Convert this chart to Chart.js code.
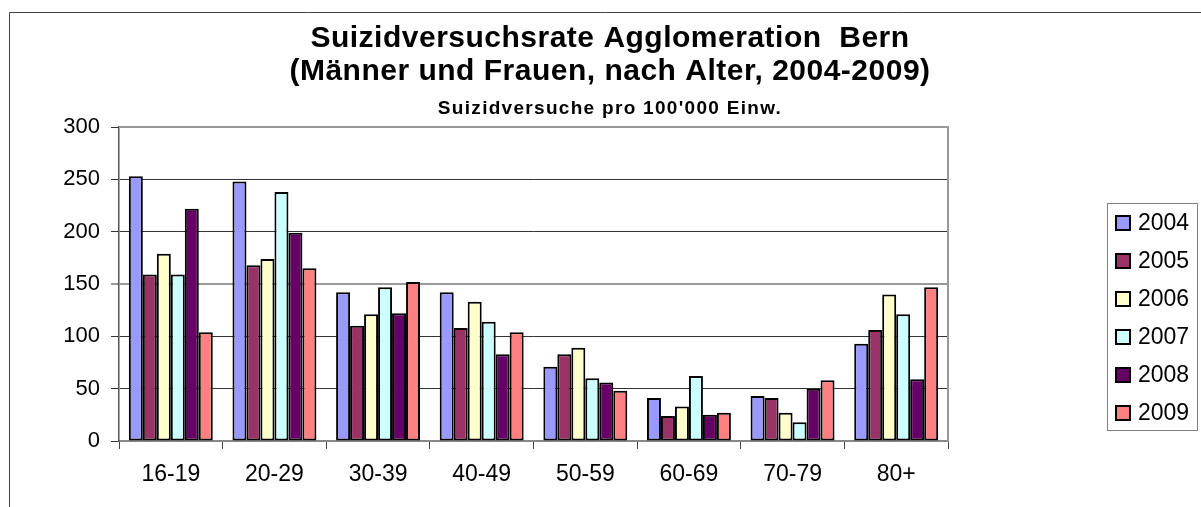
<!DOCTYPE html>
<html>
<head>
<meta charset="utf-8">
<script src="https://cdn.jsdelivr.net/npm/chart.js@4/dist/chart.umd.min.js"></script>
<style>
html,body{margin:0;padding:0;background:#fff;}
canvas{display:block;}
</style>
</head>
<body>
<canvas id="c" width="1201" height="507"></canvas>
<script>
const titleLines = ["Suizidversuchsrate Agglomeration  Bern", "(Männer und Frauen, nach Alter, 2004-2009)"];
const subtitleText = "Suizidversuche pro 100'000 Einw.";
const ageGroups = ['16-19','20-29','30-39','40-49','50-59','60-69','70-79','80+'];
const years = ['2004','2005','2006','2007','2008','2009'];
const v2004 = [253, 248, 142, 142, 71, 41, 43, 93];
const v2005 = [159, 168, 110, 108, 83, 24, 41, 106];
const v2006 = [179, 174, 121, 133, 89, 33, 27, 140];
const v2007 = [159, 238, 147, 114, 60, 62, 18, 121];
const v2008 = [222, 199, 122, 83, 56, 25, 50, 59];
const v2009 = [104, 165, 152, 104, 48, 27, 58, 147];
const seriesValues = [v2004, v2005, v2006, v2007, v2008, v2009];
const seriesColors = ['#9999FF','#993366','#FFFFCC','#CCFFFF','#660066','#FF8080'];
const yMin = 0, yMax = 300, yStep = 50;

const FONT = "'Liberation Sans', Arial, Helvetica, sans-serif";

const decor = {
  id: 'decor',
  afterDraw(chart) {
    const ctx = chart.ctx;
    const ca = chart.chartArea;
    ctx.save();
    // outer frame
    ctx.strokeStyle = '#444';
    ctx.lineWidth = 1;
    ctx.beginPath();
    ctx.moveTo(9.5, 507);
    ctx.lineTo(9.5, 12.5);
    ctx.lineTo(1201, 12.5);
    ctx.stroke();
    // plot area border (top & right)
    ctx.strokeStyle = '#999';
    ctx.lineWidth = 2;
    ctx.beginPath();
    ctx.moveTo(ca.left, ca.top);
    ctx.lineTo(ca.right, ca.top);
    ctx.lineTo(ca.right, ca.bottom);
    ctx.stroke();
    // titles
    ctx.fillStyle = '#000';
    ctx.textAlign = 'center';
    ctx.textBaseline = 'alphabetic';
    ctx.font = "bold 30px " + FONT;
    try { ctx.letterSpacing = '0.5px'; } catch(e) {}
    ctx.fillText(titleLines[0], 610, 47);
    ctx.fillText(titleLines[1], 610, 80);
    ctx.font = "bold 19px " + FONT;
    try { ctx.letterSpacing = '1.3px'; } catch(e) {}
    ctx.fillText(subtitleText, 610, 114);
    try { ctx.letterSpacing = '0px'; } catch(e) {}
    // legend
    ctx.strokeStyle = '#808080';
    ctx.lineWidth = 1;
    ctx.strokeRect(1107.5, 203.5, 90, 227);
    ctx.font = "23px " + FONT;
    ctx.textAlign = 'left';
    ctx.textBaseline = 'middle';
    chart.data.datasets.forEach((ds, i) => {
      const cy = 223 + i * 38;
      ctx.fillStyle = ds.backgroundColor;
      ctx.fillRect(1116, cy - 7, 14, 14);
      ctx.strokeStyle = '#000';
      ctx.lineWidth = 2;
      ctx.strokeRect(1116, cy - 7, 14, 14);
      ctx.fillStyle = '#000';
      ctx.fillText(ds.label, 1138, cy + 1);
    });
    ctx.restore();
  }
};

new Chart(document.getElementById('c'), {
  type: 'bar',
  data: {
    labels: ageGroups,
    datasets: years.map((y, i) => ({
      label: y,
      data: seriesValues[i],
      backgroundColor: seriesColors[i],
      borderColor: '#000',
      borderWidth: 2,
      borderSkipped: false,
      categoryPercentage: 0.81,
      barPercentage: 1.0
    }))
  },
  options: {
    responsive: false,
    animation: false,
    devicePixelRatio: 1,
    layout: { padding: { left: 0, top: 127, right: 253, bottom: 0 } },
    plugins: {
      legend: { display: false },
      title: { display: false },
      tooltip: { enabled: false }
    },
    scales: {
      x: {
        type: 'category',
        afterFit(s) { s.height = 66; },
        grid: {
          offset: true,
          drawOnChartArea: false,
          drawTicks: true,
          tickLength: 8,
          tickColor: '#444',
          tickWidth: 1
        },
        border: { display: true, color: '#888', width: 2 },
        ticks: {
          color: '#000',
          font: { family: FONT, size: 23 },
          padding: 12,
          maxRotation: 0,
          autoSkip: false
        }
      },
      y: {
        min: yMin,
        max: yMax,
        afterFit(s) { s.width = 119; },
        grid: {
          color: (c) => (c.tick && c.tick.value === 150) ? '#999' : '#333',
          lineWidth: (c) => (c.tick && c.tick.value === 150) ? 2 : 1,
          drawTicks: true,
          tickLength: 8,
          tickColor: '#333',
          tickWidth: 1
        },
        border: { display: true, color: '#555', width: 1.5 },
        ticks: {
          stepSize: yStep,
          color: '#000',
          font: { family: FONT, size: 22 },
          padding: 11
        }
      }
    }
  },
  plugins: [decor]
});
</script>
</body>
</html>
